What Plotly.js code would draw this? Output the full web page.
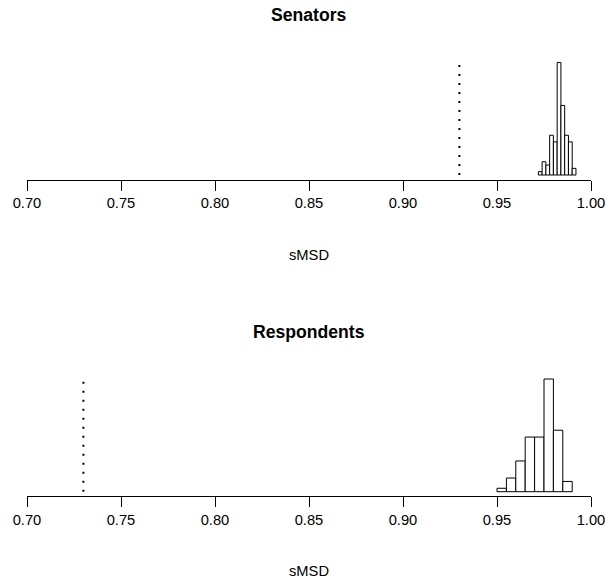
<!DOCTYPE html>
<html>
<head>
<meta charset="utf-8">
<script src="https://cdn.plot.ly/plotly-3.0.1.min.js"></script>
<style>html,body{margin:0;padding:0;background:#fff;}</style>
</head>
<body>
<div id="chart" style="width:609px;height:584px;"></div>
<script>
// Senators: bin edges start 0.972, width 0.002
const senBinStart = 0.972;
const senBinWidth = 0.002;
const senCounts = [1, 4, 3, 12, 10, 34, 21, 12, 10, 2];
const senObserved = 0.930;

// Respondents: bin edges start 0.95, width 0.005
const resBinStart = 0.95;
const resBinWidth = 0.005;
const resCounts = [1, 4, 9, 16, 16, 33, 18, 3];
const resObserved = 0.730;

const tickVals = [0.70, 0.75, 0.80, 0.85, 0.90, 0.95, 1.00];
const tickText = ["0.70", "0.75", "0.80", "0.85", "0.90", "0.95", "1.00"];
const panelTitles = ["Senators", "Respondents"];
const xLabel = "sMSD";

function centers(start, w, n) {
  const c = [];
  for (let i = 0; i < n; i++) c.push(start + w * (i + 0.5));
  return c;
}

const senMax = Math.max(...senCounts);
const resMax = Math.max(...resCounts);

const barStyle = {color: "white", line: {color: "black", width: 1}};
const traces = [
  {type: "bar", x: centers(senBinStart, senBinWidth, senCounts.length), y: senCounts,
   width: senBinWidth, marker: barStyle, xaxis: "x", yaxis: "y", hoverinfo: "x+y"},
  {type: "scatter", mode: "lines", x: [senObserved, senObserved], y: [0, senMax],
   line: {color: "black", width: 2, dash: "2px,7px"}, xaxis: "x", yaxis: "y"},
  {type: "bar", x: centers(resBinStart, resBinWidth, resCounts.length), y: resCounts,
   width: resBinWidth, marker: barStyle, xaxis: "x2", yaxis: "y2", hoverinfo: "x+y"},
  {type: "scatter", mode: "lines", x: [resObserved, resObserved], y: [0, resMax],
   line: {color: "black", width: 2, dash: "2px,7px"}, xaxis: "x2", yaxis: "y2"}
];

const H = 584;
function dom(bottomPx, topPx) { return [1 - bottomPx / H, 1 - topPx / H]; }

const xCommon = {
  range: [0.70, 1.00], tickvals: tickVals, ticktext: tickText,
  ticks: "outside", ticklen: 10, tickwidth: 1, tickcolor: "black",
  showline: true, linecolor: "black", linewidth: 1, showgrid: false, zeroline: false,
  tickfont: {family: "Liberation Sans, Arial, sans-serif", size: 14.7, color: "black"},
  fixedrange: true
};
const yCommon = {showline: false, showticklabels: false, showgrid: false, zeroline: false, ticks: "", fixedrange: true};

const font = "Liberation Sans, Arial, sans-serif";
const layout = {
  width: 609, height: 584,
  margin: {l: 27, r: 18, t: 0, b: 0},
  paper_bgcolor: "white", plot_bgcolor: "white",
  showlegend: false, bargap: 0,
  xaxis: Object.assign({}, xCommon, {anchor: "y", domain: [0, 1]}),
  yaxis: Object.assign({}, yCommon, {anchor: "x", domain: dom(179.5, 57.9), range: [-0.04 * senMax, 1.04 * senMax]}),
  xaxis2: Object.assign({}, xCommon, {anchor: "y2", domain: [0, 1]}),
  yaxis2: Object.assign({}, yCommon, {anchor: "x2", domain: dom(496.2, 374.5), range: [-0.04 * resMax, 1.04 * resMax]}),
  annotations: [
    {text: "<b>" + panelTitles[0] + "</b>", xref: "paper", yref: "paper", x: 0.5, y: 1 - 15 / H,
     showarrow: false, xanchor: "center", yanchor: "middle", font: {family: font, size: 17.6, color: "black"}},
    {text: "<b>" + panelTitles[1] + "</b>", xref: "paper", yref: "paper", x: 0.5, y: 1 - 331.7 / H,
     showarrow: false, xanchor: "center", yanchor: "middle", font: {family: font, size: 17.6, color: "black"}},
    {text: xLabel, xref: "paper", yref: "paper", x: 0.5, y: 1 - 255 / H,
     showarrow: false, xanchor: "center", yanchor: "middle", font: {family: font, size: 14.7, color: "black"}},
    {text: xLabel, xref: "paper", yref: "paper", x: 0.5, y: 1 - 571 / H,
     showarrow: false, xanchor: "center", yanchor: "middle", font: {family: font, size: 14.7, color: "black"}}
  ]
};

Plotly.newPlot("chart", traces, layout, {displayModeBar: false, staticPlot: true});
</script>
</body>
</html>
